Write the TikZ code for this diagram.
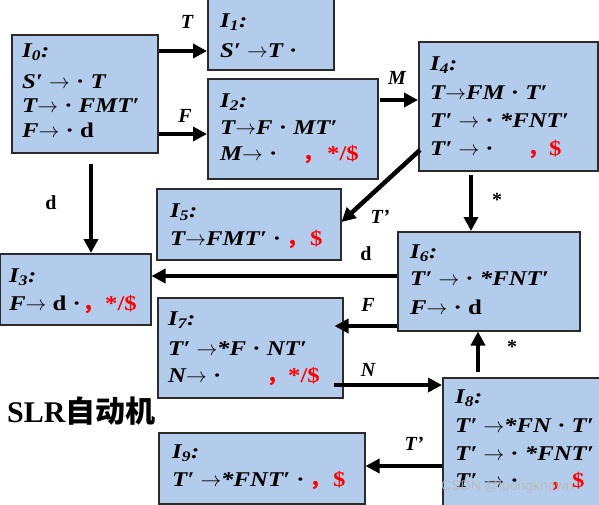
\documentclass[tikz,border=0pt]{standalone}
\usepackage{fontspec}
\setmainfont{Liberation Serif}
\newfontfamily\bx{Liberation Serif}[FakeStretch=1.18]
\newfontfamily\cjk{Noto Sans CJK SC}
\newfontfamily\wmfont{Liberation Sans}
\usetikzlibrary{arrows.meta,calc}
\definecolor{boxfill}{HTML}{B4CCEB}
\definecolor{boxline}{HTML}{2B2B2B}
\newcommand{\ra}{\ensuremath{\rightarrow}}
\newcommand{\pr}{′}
\newcommand{\cd}{{\upshape ·}}
\newcommand{\cm}{{\cjk\bfseries ，}}
\tikzset{
  box/.style={draw=boxline, line width=1.5pt, fill=boxfill, inner sep=0pt, anchor=north west},
  ln/.style={anchor=base west, inner sep=0pt, font=\bx\fontsize{21}{23}\selectfont\bfseries\itshape},
  rd/.style={anchor=base west, inner sep=0pt, text=red, font=\bx\fontsize{21}{23}\selectfont\bfseries},
  arr/.style={line width=4.5pt, -{Triangle[length=14pt,width=14pt]}},
  lbl/.style={inner sep=0pt, font=\fontsize{20}{22}\selectfont\bfseries\itshape},
  lblu/.style={inner sep=0pt, font=\fontsize{20}{22}\selectfont\bfseries}
}
\begin{document}
\begin{tikzpicture}[x=1pt,y=-1pt]
\useasboundingbox (0,0) rectangle (599,504);
% boxes
\node[box, minimum width=146pt, minimum height=118pt] (i0) at (11,34) {};
\node[box, minimum width=126pt, minimum height=72pt] (i1) at (207,-3) {};
\node[box, minimum width=170pt, minimum height=100pt] (i2) at (207,78) {};
\node[box, minimum width=179pt, minimum height=129pt] (i4) at (418,41) {};
\node[box, minimum width=184pt, minimum height=71pt] (i5) at (156,188) {};
\node[box, minimum width=151pt, minimum height=71pt] (i3) at (-1,253) {};
\node[box, minimum width=182pt, minimum height=99pt] (i6) at (397,231) {};
\node[box, minimum width=185pt, minimum height=100pt] (i7) at (157,297) {};
\node[box, minimum width=170pt, minimum height=140pt] (i8) at (442,377) {};
\node[box, minimum width=206pt, minimum height=71pt] (i9) at (158,432) {};
% I0
\node[ln] (t0a) at (22,57) {I\textsubscript{0}:};
\node[ln] (t0b) at (22,88) {S\pr\ \ra\ \cd\ T};
\node[ln] (t0c) at (22,112) {T\ra\ \cd\ FMT\pr};
\node[ln] (t0d) at (22,137) {F\ra\ \cd\ {\upshape d}};
% I1
\node[ln] (t1a) at (220,27) {I\textsubscript{1}:};
\node[ln] (t1b) at (220,57) {S\pr\ \ra T \cd};
% I2
\node[ln] (t2a) at (220,107) {I\textsubscript{2}:};
\node[ln] (t2b) at (220,134) {T\ra F \cd\ MT\pr};
\node[ln] (t2c) at (220,160) {M\ra\ \cd};
\node[rd] (r2a) at (302,160) {\cm};
\node[rd] (r2b) at (327,160) {*/\$};
% I4
\node[ln] (t4a) at (430,70) {I\textsubscript{4}:};
\node[ln] (t4b) at (430,99) {T\ra FM \cd\ T\pr};
\node[ln] (t4c) at (430,127) {T\pr\ \ra\ \cd\ *FNT\pr};
\node[ln] (t4d) at (430,155) {T\pr\ \ra\ \cd};
\node[rd] (r4a) at (527,155) {\cm};
\node[rd] (r4b) at (549,155) {\$};
% I5
\node[ln] (t5a) at (170,217) {I\textsubscript{5}:};
\node[ln] (t5b) at (170,245) {T\ra FMT\pr\ \cd};
\node[rd] (r5a) at (286,245) {\cm};
\node[rd] (r5b) at (310,245) {\$};
% I3
\node[ln] (t3a) at (9,282) {I\textsubscript{3}:};
\node[ln] (t3b) at (9,310) {F\ra\ {\upshape d} \cd};
\node[rd] (r3a) at (82,310) {\cm};
\node[rd] (r3b) at (105,310) {*/\$};
% I6
\node[ln] (t6a) at (410,258) {I\textsubscript{6}:};
\node[ln] (t6b) at (410,285) {T\pr\ \ra\ \cd\ *FNT\pr};
\node[ln] (t6c) at (410,314) {F\ra\ \cd\ {\upshape d}};
% I7
\node[ln] (t7a) at (168,325) {I\textsubscript{7}:};
\node[ln] (t7b) at (168,355) {T\pr\ \ra *F \cd\ NT\pr};
\node[ln] (t7c) at (168,382) {N\ra\ \cd};
\node[rd] (r7a) at (266,382) {\cm};
\node[rd] (r7b) at (288,382) {*/\$};
% I8
\node[ln] (t8a) at (455,403) {I\textsubscript{8}:};
\node[ln] (t8b) at (455,432) {T\pr\ \ra *FN \cd\ T\pr};
\node[ln] (t8c) at (455,460) {T\pr\ \ra\ \cd\ *FNT\pr};
\node[ln] (t8d) at (455,487) {T\pr\ \ra\ \cd};
\node[rd] (r8a) at (549,487) {\cm};
\node[rd] (r8b) at (572,487) {\$};
% I9
\node[ln] (t9a) at (172,458) {I\textsubscript{9}:};
\node[ln] (t9b) at (172,486) {T\pr\ \ra *FNT\pr\ \cd};
\node[rd] (r9a) at (309,486) {\cm};
\node[rd] (r9b) at (333,486) {\$};
% title
\node[anchor=base west, inner sep=0pt, font=\fontsize{30}{34}\selectfont\bfseries] (title) at (7,422) {SLR{\cjk\bfseries 自动机}};
% arrows
\draw[arr] (i0.east |- 0,51) -- (i1.west |- 0,51);
\draw[arr] (i0.east |- 0,134) -- (i2.west |- 0,134);
\draw[arr] ($(i2.east |- 0,100)+(1,0)$) -- (i4.west |- 0,100);
\draw[arr] ($(i4.west |- 0,150)+(2,0)$) -- (i5.east |- 0,222);
\draw[arr] ($(i4.south -| 471,0)+(0,3)$) -- (i6.north -| 471,0);
\draw[arr] ($(i0.south -| 91,0)+(0,10)$) -- (i3.north -| 91,0);
\draw[arr] (i6.west |- 0,276) -- (i3.east |- 0,276);
\draw[arr] (i6.west |- 0,326) -- ($(i7.east |- 0,326)+(-9,0)$);
\draw[arr] ($(i7.east |- 0,385)+(-10,0)$) -- (i8.west |- 0,385);
\draw[arr] ($(i8.north -| 478,0)+(0,-5)$) -- (i6.south -| 478,0);
\draw[arr] (i8.west |- 0,466) -- (i9.east |- 0,466);
% labels
\node[lbl] (l1) at (187,22) {T};
\node[lbl] (l2) at (185,116) {F};
\node[lbl] (l3) at (397,78) {M};
\node[lbl] (l4) at (380,217) {T’};
\node[lblu] (l5) at (497,200) {*};
\node[lblu] (l6) at (51,203) {d};
\node[lblu] (l7) at (366,254) {d};
\node[lbl] (l8) at (368,305) {F};
\node[lbl] (l9) at (368,370) {N};
\node[lblu] (l10) at (512,347) {*};
\node[lbl] (l11) at (414,444) {T’};
% watermark
\node[anchor=base west, inner sep=0pt, text=gray!55, opacity=0.85, font=\fontsize{14}{16}\selectfont\wmfont] (wm) at (441,490) {CSDN @loongknown};
\end{tikzpicture}
\end{document}
